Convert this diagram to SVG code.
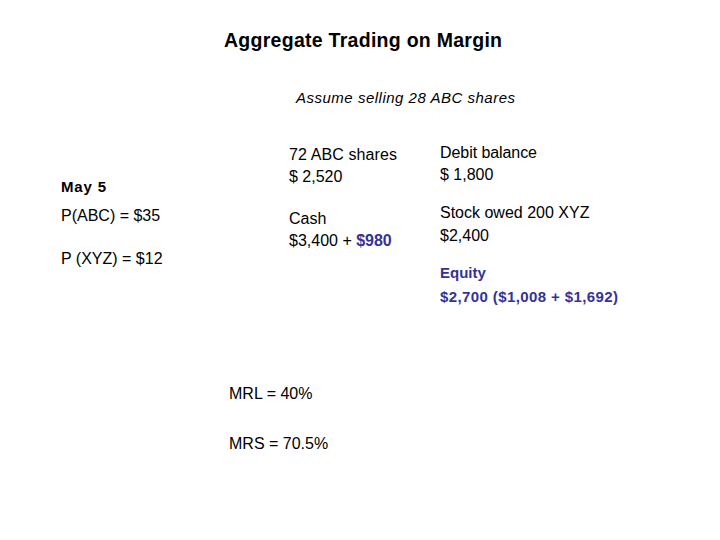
<svg xmlns="http://www.w3.org/2000/svg" width="720" height="540" viewBox="0 0 720 540">
<style>
text{font-family:"Liberation Sans",Arial,sans-serif;fill:#000;font-size:16px}
.b{font-weight:bold}
.blue{fill:#333399;font-weight:bold}
</style>
<rect width="720" height="540" fill="#fff"/>
<text x="224" y="47" class="b" style="font-size:19.5px" textLength="278">Aggregate Trading on Margin</text>
<text x="296" y="103" style="font-style:italic;font-size:15px" textLength="219">Assume selling 28 ABC shares</text>
<g id="left">
<text x="61" y="192" class="b" style="font-size:15px" textLength="45">May 5</text>
<text x="61" y="221">P(ABC) = $35</text>
<text x="61" y="264">P (XYZ) = $12</text>
</g>
<g id="assets">
<text x="289" y="160" textLength="108">72 ABC shares</text>
<text x="289" y="182">$ 2,520</text>
<text x="289" y="224">Cash</text>
<text x="289" y="246">$3,400 + <tspan class="blue">$980</tspan></text>
</g>
<g id="liabilities">
<text x="440" y="158" textLength="97">Debit balance</text>
<text x="440" y="180">$ 1,800</text>
<text x="440" y="218">Stock owed 200 XYZ</text>
<text x="440" y="241">$2,400</text>
<text x="440" y="278" class="blue" style="font-size:15px">Equity</text>
<text x="440" y="302" class="blue" style="font-size:15px" textLength="178">$2,700 ($1,008 + $1,692)</text>
</g>
<g id="ratios">
<text x="229" y="399">MRL = 40%</text>
<text x="229" y="449">MRS = 70.5%</text>
</g>
</svg>
